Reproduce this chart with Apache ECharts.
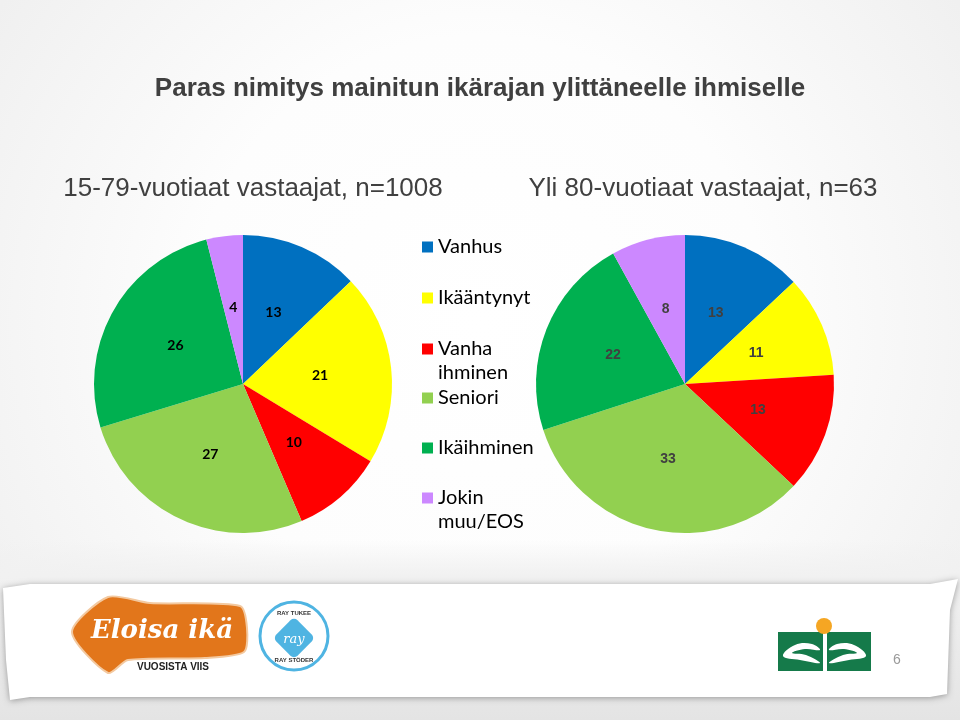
<!DOCTYPE html>
<html>
<head>
<meta charset="utf-8">
<script src="https://cdn.jsdelivr.net/npm/echarts@6/dist/echarts.min.js"></script>
<style>
html,body{margin:0;padding:0;background:#fff;}
#chart{width:960px;height:720px;}
</style>
</head>
<body>
<div id="chart"></div>
<script>
// ---- data ----
const categories = ['Vanhus', 'Ikääntynyt', 'Vanha ihminen', 'Seniori', 'Ikäihminen', 'Jokin muu/EOS'];
const legendLabels = ['Vanhus', 'Ikääntynyt', 'Vanha\nihminen', 'Seniori', 'Ikäihminen', 'Jokin\nmuu/EOS'];
const colors = ['#0070c0', '#ffff00', '#ff0000', '#92d050', '#00b050', '#cc88ff'];
const values1579 = [13, 21, 10, 27, 26, 4];
const valuesOver80 = [13, 11, 13, 33, 22, 8];
const titleText = 'Paras nimitys mainitun ikärajan ylittäneelle ihmiselle';
const subtitle1 = '15-79-vuotiaat vastaajat, n=1008';
const subtitle2 = 'Yli 80-vuotiaat vastaajat, n=63';
const pageNumber = '6';

const chart = echarts.init(document.getElementById('chart'), null, {renderer: 'canvas'});

function pieData(vals) {
  return categories.map((c, i) => ({name: c, value: vals[i], itemStyle: {color: colors[i]}}));
}

// legend item icon centres (y)
const legendY = [247, 298, 349, 398, 448, 498];
const legends = categories.map((c, i) => {
  const multi = legendLabels[i].indexOf('\n') >= 0;
  return {
    data: [{name: c, icon: 'rect'}],
    orient: 'vertical',
    left: 422,
    top: multi ? legendY[i] - 36 : legendY[i] - 12,
    padding: 0,
    itemWidth: 11,
    itemHeight: 11,
    selectedMode: false,
    itemStyle: {borderWidth: 0},
    formatter: () => multi ? '\n' + legendLabels[i] : legendLabels[i],
    textStyle: {fontFamily: 'Lato', fontSize: 20, lineHeight: 24, color: '#000'}
  };
});

const option = {
  backgroundColor: {
    type: 'radial', x: 0.5, y: 0.45, r: 0.8,
    colorStops: [{offset: 0, color: '#ffffff'}, {offset: 0.5, color: '#fdfdfd'}, {offset: 1, color: '#f0f0f0'}]
  },
  animation: false,
  title: [{
    text: titleText,
    left: 'center',
    top: 76,
    padding: 0,
    textStyle: {fontFamily: 'Liberation Sans', fontWeight: 'bold', fontSize: 26, color: '#404040'}
  }],
  legend: legends,
  series: [{
    type: 'pie',
    center: [243, 384],
    radius: [0, 149],
    startAngle: 90,
    clockwise: true,
    data: pieData(values1579),
    itemStyle: {borderWidth: 0},
    emphasis: {disabled: true},
    label: {show: true, position: 'inside', formatter: '{c}', fontFamily: 'Lato', fontWeight: 'bold', fontSize: 14, color: '#000'},
    labelLine: {show: false}
  }, {
    type: 'pie',
    center: [685, 384],
    radius: [0, 149],
    startAngle: 90,
    clockwise: true,
    data: pieData(valuesOver80),
    itemStyle: {borderWidth: 0},
    emphasis: {disabled: true},
    label: {show: true, position: 'inside', formatter: '{c}', fontFamily: 'Liberation Sans', fontWeight: 'bold', fontSize: 14, color: '#404040'},
    labelLine: {show: false}
  }],
  graphic: [
    // footer band
    {type: 'rect', silent: true, z: -10, shape: {x: 0, y: 540, width: 960, height: 180},
      style: {fill: {type: 'linear', x: 0, y: 0, x2: 0, y2: 1, colorStops: [{offset: 0, color: 'rgba(240,240,240,0)'}, {offset: 0.2, color: '#f1f1f1'}, {offset: 1, color: '#e4e4e4'}]}}},
    {type: 'polygon', silent: true, z: -9,
      shape: {points: [[3, 588], [30, 584], [930, 584], [958, 579], [950, 610], [947, 694], [930, 697], [30, 697], [10, 700], [6, 660]], smooth: 0},
      style: {fill: '#ffffff', shadowBlur: 6, shadowColor: 'rgba(0,0,0,0.35)', shadowOffsetY: 1}},
    // subtitles
    {type: 'text', x: 253, y: 189, style: {text: subtitle1, textAlign: 'center', textVerticalAlign: 'middle', fontFamily: 'Liberation Sans', fontSize: 26, fill: '#404040'}},
    {type: 'text', x: 703, y: 189, style: {text: subtitle2, textAlign: 'center', textVerticalAlign: 'middle', fontFamily: 'Liberation Sans', fontSize: 26, fill: '#404040'}},
    // Eloisa ikä logo
    {type: 'polygon', silent: true, shape: {points: [[72, 632], [108, 597], [150, 603], [240, 606], [247, 628], [244, 652], [205, 658], [128, 660], [108, 673]], smooth: 0.25},
      style: {fill: '#e2761b', stroke: '#f3c9a0', lineWidth: 2}},
    {type: 'text', x: 162, y: 631, style: {text: 'Eloisa ikä', textAlign: 'center', textVerticalAlign: 'middle', fontFamily: 'DejaVu Serif', fontStyle: 'italic', fontWeight: 'bold', fontSize: 26, fill: '#ffffff'}},
    {type: 'text', x: 173, y: 667, style: {text: 'VUOSISTA VIIS', textAlign: 'center', textVerticalAlign: 'middle', fontFamily: 'Liberation Sans', fontWeight: 'bold', fontSize: 10, fill: '#222'}},
    // RAY logo
    {type: 'circle', silent: true, shape: {cx: 294, cy: 636, r: 34}, style: {fill: '#fff', stroke: '#4fb4e2', lineWidth: 3}},
    {type: 'rect', silent: true, x: 294, y: 638, rotation: Math.PI / 4, shape: {x: -15, y: -15, width: 30, height: 30, r: 5}, style: {fill: '#4fb4e2'}},
    {type: 'text', x: 294, y: 640, style: {text: 'ray', textAlign: 'center', textVerticalAlign: 'middle', fontFamily: 'DejaVu Serif', fontStyle: 'italic', fontSize: 13, fill: '#fff'}},
    {type: 'text', x: 294, y: 613, style: {text: 'RAY TUKEE', textAlign: 'center', textVerticalAlign: 'middle', fontFamily: 'Liberation Sans', fontWeight: 'bold', fontSize: 6, fill: '#333'}},
    {type: 'text', x: 294, y: 660, style: {text: 'RAY STÖDER', textAlign: 'center', textVerticalAlign: 'middle', fontFamily: 'Liberation Sans', fontWeight: 'bold', fontSize: 6, fill: '#333'}},
    // right logo
    {type: 'rect', silent: true, shape: {x: 778, y: 632, width: 45, height: 39}, style: {fill: '#157a4a'}},
    {type: 'rect', silent: true, shape: {x: 827, y: 632, width: 44, height: 39}, style: {fill: '#157a4a'}},
    {type: 'circle', silent: true, shape: {cx: 824, cy: 626, r: 8}, style: {fill: '#f5a623'}},
    {type: 'polygon', silent: true, shape: {points: [[783, 656], [795, 645], [812, 644], [820, 650], [805, 649], [792, 653], [806, 655], [820, 663], [800, 660]], smooth: 0.4}, style: {fill: '#fff'}},
    {type: 'polygon', silent: true, shape: {points: [[866, 656], [854, 645], [837, 644], [829, 650], [844, 649], [857, 653], [843, 655], [829, 663], [849, 660]], smooth: 0.4}, style: {fill: '#fff'}},
    {type: 'text', x: 897, y: 660, style: {text: pageNumber, textAlign: 'center', textVerticalAlign: 'middle', fontFamily: 'Liberation Sans', fontSize: 14, fill: '#9a9a9a'}}
  ]
};
chart.setOption(option);
</script>
</body>
</html>
